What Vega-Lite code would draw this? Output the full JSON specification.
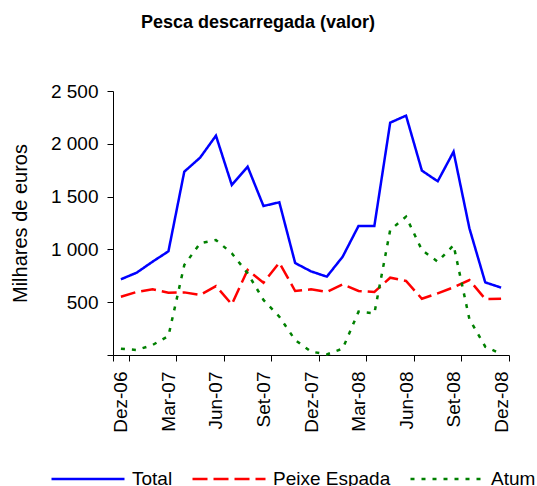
{
  "$schema": "https://vega.github.io/schema/vega-lite/v6.json",
  "autosize": "none",
  "width": 396,
  "height": 264,
  "padding": {"left": 113, "top": 91, "right": 28, "bottom": 131},
  "background": "white",
  "config": {
    "font": "Liberation Sans",
    "view": {"stroke": null},
    "axis": {"grid": false, "domainColor": "black", "tickColor": "black", "labelColor": "black", "titleColor": "black", "labelFont": "Liberation Sans", "titleFont": "Liberation Sans"}
  },
  "title": {
    "text": "Pesca descarregada (valor)",
    "fontSize": 18,
    "fontWeight": "bold",
    "font": "Liberation Sans",
    "color": "black",
    "anchor": "middle",
    "frame": "group",
    "baseline": "alphabetic",
    "dx": -53,
    "offset": 36
  },
  "data": {
    "values": [
      {"mes": "Dez-06", "Total": 717, "Peixe Espada": 552, "Atum": 60},
      {"mes": "Jan-07", "Total": 780, "Peixe Espada": 597, "Atum": 47},
      {"mes": "Fev-07", "Total": 884, "Peixe Espada": 622, "Atum": 95},
      {"mes": "Mar-07", "Total": 982, "Peixe Espada": 590, "Atum": 180},
      {"mes": "Abr-07", "Total": 1736, "Peixe Espada": 593, "Atum": 852},
      {"mes": "Mai-07", "Total": 1869, "Peixe Espada": 568, "Atum": 1058},
      {"mes": "Jun-07", "Total": 2077, "Peixe Espada": 653, "Atum": 1089},
      {"mes": "Jul-07", "Total": 1610, "Peixe Espada": 480, "Atum": 963},
      {"mes": "Ago-07", "Total": 1783, "Peixe Espada": 805, "Atum": 774},
      {"mes": "Set-07", "Total": 1411, "Peixe Espada": 685, "Atum": 521},
      {"mes": "Out-07", "Total": 1446, "Peixe Espada": 874, "Atum": 363},
      {"mes": "Nov-07", "Total": 871, "Peixe Espada": 606, "Atum": 142},
      {"mes": "Dez-07", "Total": 792, "Peixe Espada": 622, "Atum": 32},
      {"mes": "Jan-08", "Total": 742, "Peixe Espada": 597, "Atum": 6},
      {"mes": "Fev-08", "Total": 931, "Peixe Espada": 669, "Atum": 60},
      {"mes": "Mar-08", "Total": 1222, "Peixe Espada": 606, "Atum": 410},
      {"mes": "Abr-08", "Total": 1222, "Peixe Espada": 597, "Atum": 394},
      {"mes": "Mai-08", "Total": 2200, "Peixe Espada": 732, "Atum": 1184},
      {"mes": "Jun-08", "Total": 2267, "Peixe Espada": 701, "Atum": 1310},
      {"mes": "Jul-08", "Total": 1746, "Peixe Espada": 533, "Atum": 994},
      {"mes": "Ago-08", "Total": 1645, "Peixe Espada": 584, "Atum": 884},
      {"mes": "Set-08", "Total": 1925, "Peixe Espada": 641, "Atum": 1040},
      {"mes": "Out-08", "Total": 1200, "Peixe Espada": 710, "Atum": 340},
      {"mes": "Nov-08", "Total": 688, "Peixe Espada": 530, "Atum": 79},
      {"mes": "Dez-08", "Total": 638, "Peixe Espada": 533, "Atum": 10}
    ]
  },
  "transform": [{"fold": ["Total", "Peixe Espada", "Atum"], "as": ["serie", "valor"]}],
  "mark": {"type": "line", "strokeWidth": 2.5},
  "encoding": {
    "x": {
      "field": "mes",
      "type": "ordinal",
      "sort": null,
      "bandPosition": 0.5,
      "scale": {"type": "band", "paddingInner": 0, "paddingOuter": 0},
      "axis": {
        "title": null,
        "values": ["Dez-06", "Mar-07", "Jun-07", "Set-07", "Dez-07", "Mar-08", "Jun-08", "Set-08", "Dez-08"],
        "tickBand": "extent",
        "labelAngle": -90,
        "labelFontSize": 19,
        "tickSize": 6,
        "labelPadding": 10
      }
    },
    "y": {
      "field": "valor",
      "type": "quantitative",
      "scale": {"domain": [0, 2500], "nice": false},
      "axis": {
        "title": "Milhares de euros",
        "titleFontSize": 20,
        "titleFontWeight": "normal",
        "titlePadding": 20,
        "values": [0, 500, 1000, 1500, 2000, 2500],
        "labelExpr": "datum.value == 0 ? '' : replace(format(datum.value, ','), ',', ' ')",
        "labelFontSize": 19,
        "tickSize": 6,
        "labelPadding": 9
      }
    },
    "color": {
      "field": "serie",
      "type": "nominal",
      "scale": {"domain": ["Total", "Peixe Espada", "Atum"], "range": ["#0000FF", "#FF0000", "#008000"]},
      "legend": {
        "title": null,
        "orient": "none",
        "direction": "horizontal",
        "legendX": -63,
        "legendY": 350,
        "symbolType": "stroke",
        "symbolSize": 5329,
        "symbolStrokeWidth": 2.5,
        "labelFontSize": 19,
        "labelColor": "black",
        "labelOffset": 6,
        "columnPadding": 14,
        "padding": 0
      }
    },
    "strokeDash": {
      "field": "serie",
      "type": "nominal",
      "scale": {"domain": ["Total", "Peixe Espada", "Atum"], "range": [[1, 0], [15, 6], [4, 7]]},
      "legend": {
        "title": null,
        "orient": "none",
        "direction": "horizontal",
        "legendX": -63,
        "legendY": 350,
        "symbolType": "stroke",
        "symbolSize": 5329,
        "symbolStrokeWidth": 2.5,
        "labelFontSize": 19,
        "labelColor": "black",
        "labelOffset": 6,
        "columnPadding": 14,
        "padding": 0
      }
    }
  }
}
